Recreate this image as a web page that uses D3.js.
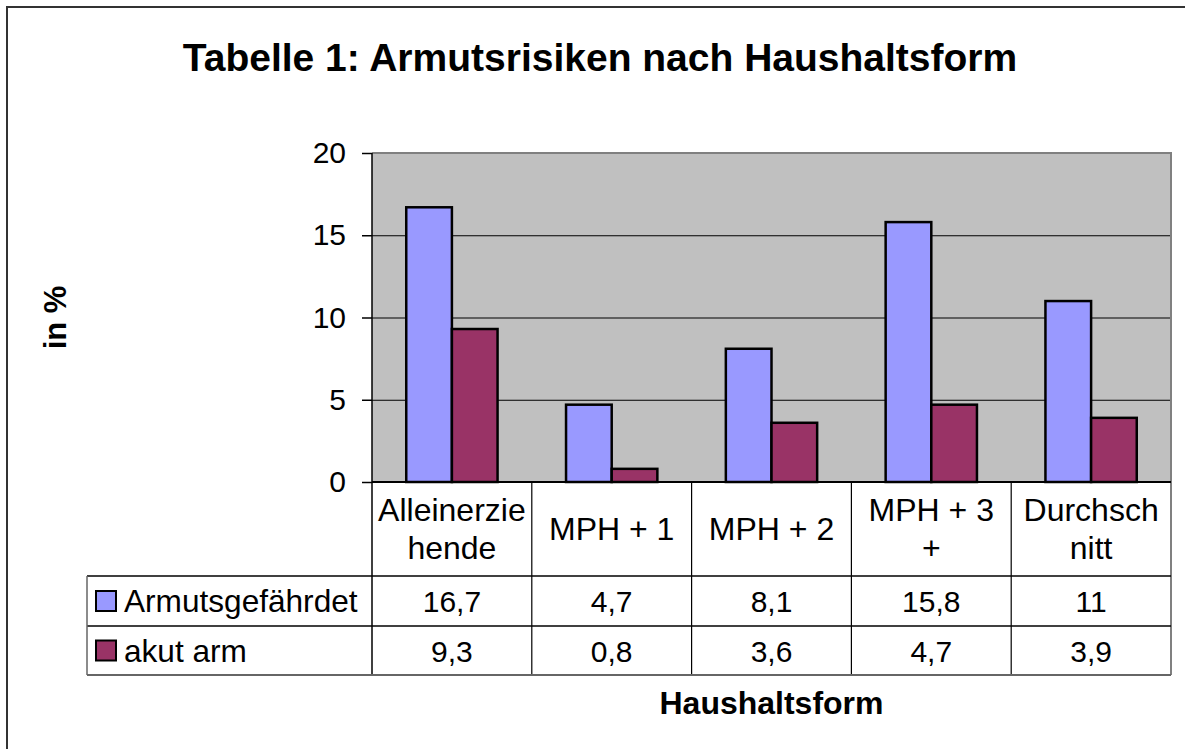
<!DOCTYPE html>
<html>
<head>
<meta charset="utf-8">
<script src="https://cdn.jsdelivr.net/npm/d3@7"></script>
<style>
  body { margin: 0; background: #fff; }
  svg { display: block; font-family: "Liberation Sans", Arial, sans-serif; }
</style>
</head>
<body>
<div id="chartDiv"></div>
<script>
// chart data
var categories = ["Alleinerziehende", "MPH + 1", "MPH + 2", "MPH + 3 +", "Durchschnitt"];
var catLines = [["Alleinerzie", "hende"], ["MPH + 1"], ["MPH + 2"], ["MPH + 3", "+"], ["Durchsch", "nitt"]];
var seriesNames = ["Armutsgefährdet", "akut arm"];
var gefaehrdet = [16.7, 4.7, 8.1, 15.8, 11];
var akutArm = [9.3, 0.8, 3.6, 4.7, 3.9];
var yTicks = [0, 5, 10, 15, 20];
var colors = ["#9999FF", "#993366"];

var W = 1185, H = 749;
var plot = {left: 372, right: 1171, top: 153, bottom: 482};
var tableLeft = 87, rowHead = 576, row1 = 626, row2 = 675;

var svg = d3.select("#chartDiv").append("svg")
	.attr("width", W).attr("height", H);

// outer frame (top and left edges only visible)
svg.append("path")
	.attr("d", "M7,749 L7,7 L1185,7")
	.attr("fill", "none").attr("stroke", "#333").attr("stroke-width", 2);

svg.append("text")
	.attr("x", 600).attr("y", 71)
	.attr("text-anchor", "middle")
	.attr("font-size", 39).attr("font-weight", "bold")
	.text("Tabelle 1: Armutsrisiken nach Haushaltsform");

var x = d3.scaleBand().domain(categories).range([plot.left, plot.right]);
var xs = d3.scaleBand().domain(seriesNames).range([0, x.bandwidth()])
	.paddingInner(0).paddingOuter(0.75);
var y = d3.scaleLinear().domain([0, 20]).range([plot.bottom, plot.top]);

// plot background
svg.append("rect")
	.attr("x", plot.left).attr("y", plot.top)
	.attr("width", plot.right - plot.left).attr("height", plot.bottom - plot.top)
	.attr("fill", "#C0C0C0");

// grid lines
svg.selectAll(".grid").data(yTicks.filter(function(d) { return d > 0 && d < 20; }))
	.enter().append("line")
	.attr("x1", plot.left).attr("x2", plot.right)
	.attr("y1", function(d) { return y(d) + 0.5; })
	.attr("y2", function(d) { return y(d) + 0.5; })
	.attr("stroke", "#000").attr("stroke-width", 1);

// top / right border of plot
svg.append("path")
	.attr("d", "M" + plot.left + "," + plot.top + " L" + plot.right + "," + plot.top + " L" + plot.right + "," + row2)
	.attr("fill", "none").attr("stroke", "#808080").attr("stroke-width", 2);

// bars
var seriesData = [gefaehrdet, akutArm];
seriesData.forEach(function(vals, si) {
	svg.selectAll(".bar" + si).data(vals).enter().append("rect")
		.attr("x", function(d, i) { return x(categories[i]) + xs(seriesNames[si]); })
		.attr("y", function(d) { return y(d); })
		.attr("width", xs.bandwidth())
		.attr("height", function(d) { return y(0) - y(d); })
		.attr("fill", colors[si])
		.attr("stroke", "#000").attr("stroke-width", 2.5);
});

// y axis
var yAxis = d3.axisLeft(y).tickValues(yTicks).tickSize(10).tickPadding(16);
var ya = svg.append("g").attr("transform", "translate(" + plot.left + ",0)").call(yAxis);
ya.select(".domain").remove();
ya.selectAll(".tick line").attr("stroke", "#000").attr("stroke-width", 1.5);
ya.selectAll(".tick text").attr("font-size", 30).attr("font-family", "Liberation Sans, Arial, sans-serif").attr("fill", "#000");
svg.append("line")
	.attr("x1", plot.left).attr("x2", plot.left)
	.attr("y1", plot.top).attr("y2", row2)
	.attr("stroke", "#000").attr("stroke-width", 1.5);
svg.append("line")
	.attr("x1", plot.left).attr("x2", plot.right)
	.attr("y1", plot.bottom).attr("y2", plot.bottom)
	.attr("stroke", "#000").attr("stroke-width", 2);

// data table
var edges = categories.map(function(c) { return x(c); }).concat([plot.right]);
edges.slice(1, -1).forEach(function(e) {
	svg.append("line").attr("x1", e).attr("x2", e)
		.attr("y1", plot.bottom).attr("y2", row2)
		.attr("stroke", "#000").attr("stroke-width", 1.2);
});
[rowHead, row1].forEach(function(r) {
	svg.append("line").attr("x1", tableLeft).attr("x2", plot.right)
		.attr("y1", r).attr("y2", r)
		.attr("stroke", "#000").attr("stroke-width", 1.5);
});
svg.append("line").attr("x1", tableLeft).attr("x2", plot.right)
	.attr("y1", row2).attr("y2", row2)
	.attr("stroke", "#666").attr("stroke-width", 2);
svg.append("line").attr("x1", tableLeft).attr("x2", tableLeft)
	.attr("y1", rowHead).attr("y2", row2)
	.attr("stroke", "#666").attr("stroke-width", 1.5);

// category headers
catLines.forEach(function(lines, i) {
	var cx = x(categories[i]) + x.bandwidth() / 2;
	var mid = (plot.bottom + rowHead) / 2;
	var lh = 38;
	var t = svg.append("text").attr("text-anchor", "middle").attr("font-size", 32);
	lines.forEach(function(l, j) {
		t.append("tspan").attr("x", cx)
			.attr("y", mid + 11 + (j - (lines.length - 1) / 2) * lh)
			.text(l);
	});
});

// value rows
var rowTops = [rowHead, row1];
var rowBots = [row1, row2];
seriesData.forEach(function(vals, si) {
	var cy = (rowTops[si] + rowBots[si]) / 2;
	svg.selectAll(".val" + si).data(vals).enter().append("text")
		.attr("x", function(d, i) { return x(categories[i]) + x.bandwidth() / 2; })
		.attr("y", cy + 11)
		.attr("text-anchor", "middle").attr("font-size", 30)
		.text(function(d) { return String(d).replace(".", ","); });
	svg.append("rect")
		.attr("x", 96).attr("y", cy - 10)
		.attr("width", 20).attr("height", 20)
		.attr("fill", colors[si]).attr("stroke", "#000").attr("stroke-width", 2);
	svg.append("text")
		.attr("x", 124).attr("y", cy + 11)
		.attr("font-size", 31.6)
		.text(seriesNames[si]);
});

// axis titles
svg.append("text")
	.attr("x", (plot.left + plot.right) / 2).attr("y", 714)
	.attr("text-anchor", "middle").attr("font-size", 32).attr("font-weight", "bold")
	.text("Haushaltsform");
svg.append("text")
	.attr("transform", "translate(66," + ((plot.top + plot.bottom) / 2) + ") rotate(-90)")
	.attr("text-anchor", "middle").attr("font-size", 31).attr("font-weight", "bold")
	.text("in %");
</script>
</body>
</html>
